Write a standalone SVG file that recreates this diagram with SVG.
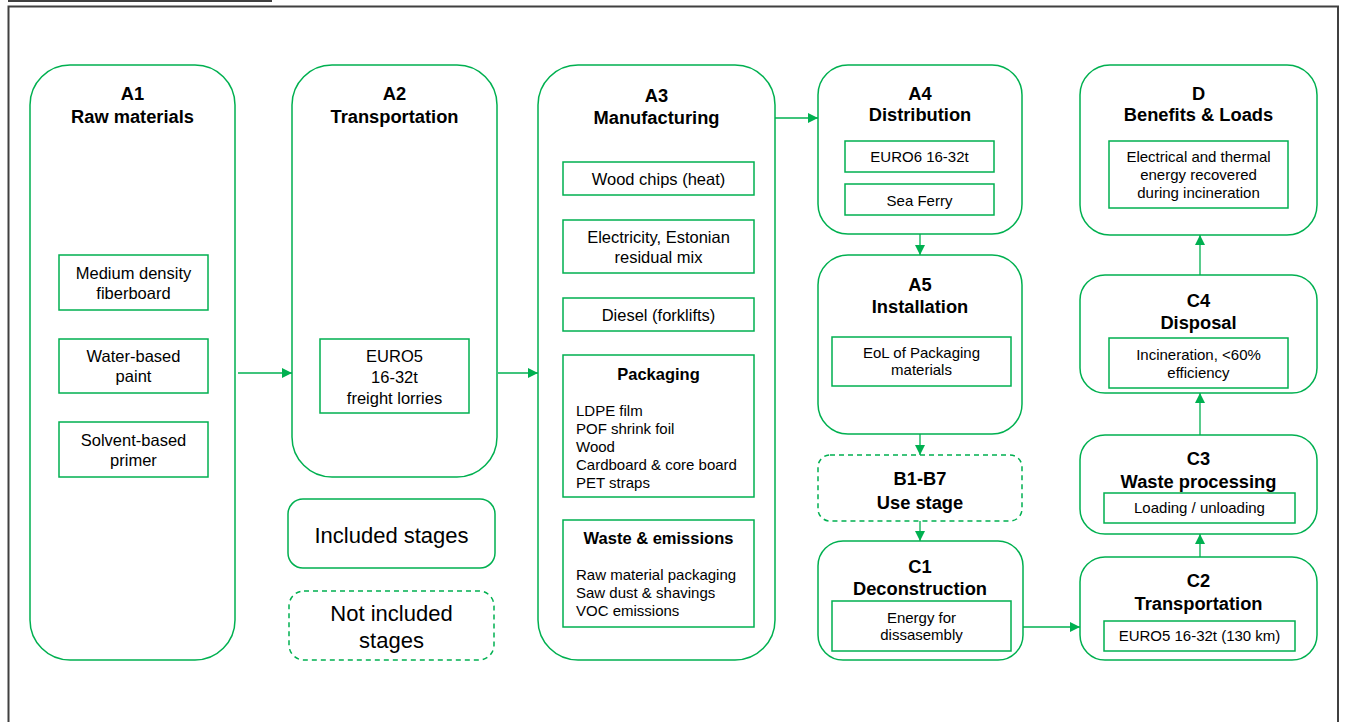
<svg xmlns="http://www.w3.org/2000/svg" width="1345" height="722" viewBox="0 0 1345 722">
<defs>
<style>
.stage{fill:#fff;stroke:#00b050;stroke-width:1.5}
.dash{fill:#fff;stroke:#00b050;stroke-width:1.5;stroke-dasharray:5 4}
.box{fill:#fff;stroke:#00b050;stroke-width:1.5}
.t{font-family:"Liberation Sans",Arial,sans-serif;font-weight:bold;font-size:18.3px;fill:#000;text-anchor:middle}
.s{font-family:"Liberation Sans",Arial,sans-serif;font-size:15px;fill:#000;text-anchor:middle}
.m{font-family:"Liberation Sans",Arial,sans-serif;font-size:16.5px;fill:#000;text-anchor:middle}
.sb{font-family:"Liberation Sans",Arial,sans-serif;font-weight:bold;font-size:16.5px;fill:#000;text-anchor:middle}
.l{font-family:"Liberation Sans",Arial,sans-serif;font-size:15px;fill:#000}
.lg{font-family:"Liberation Sans",Arial,sans-serif;font-size:22px;fill:#000;text-anchor:middle}
.c{stroke:#00b050;stroke-width:1.3;fill:none;marker-end:url(#ah)}
</style>
<marker id="ah" viewBox="0 0 10 10" refX="10" refY="5" markerWidth="10" markerHeight="10" markerUnits="userSpaceOnUse" orient="auto">
<path d="M0,0 L10,5 L0,10 z" fill="#00b050"/>
</marker>
</defs>
<rect width="1345" height="722" fill="#fff"/>
<line x1="8" y1="1" x2="272" y2="1" stroke="#000" stroke-width="1.5"/>
<path d="M8.5,722 V6.5 H1338 V722" fill="none" stroke="#404040" stroke-width="2"/>

<g id="A1">
<rect class="stage" x="30" y="65" width="205" height="595" rx="40"/>
<text class="t" x="132.5" y="99.5">A1</text>
<text class="t" x="132.5" y="122.5">Raw materials</text>
<rect class="box" x="59" y="255" width="149" height="55"/>
<text class="m" x="133.5" y="278.5">Medium density</text>
<text class="m" x="133.5" y="298.5">fiberboard</text>
<rect class="box" x="59" y="339" width="149" height="54"/>
<text class="m" x="133.5" y="361.5">Water-based</text>
<text class="m" x="133.5" y="381.5">paint</text>
<rect class="box" x="59" y="422" width="149" height="55"/>
<text class="m" x="133.5" y="445.5">Solvent-based</text>
<text class="m" x="133.5" y="465.5">primer</text>
</g>

<g id="A2">
<rect class="stage" x="292" y="65" width="205" height="412" rx="40"/>
<text class="t" x="394.5" y="99.5">A2</text>
<text class="t" x="394.5" y="122.5">Transportation</text>
<rect class="box" x="320" y="339" width="149" height="74"/>
<text class="m" x="394.5" y="361.5">EURO5</text>
<text class="m" x="394.5" y="382.5">16-32t</text>
<text class="m" x="394.5" y="403.5">freight lorries</text>
</g>

<g id="legend-included">
<rect class="stage" x="288" y="499" width="207" height="69" rx="15"/>
<text class="lg" x="391.5" y="543">Included stages</text>
</g>
<g id="legend-not-included">
<rect class="dash" x="289" y="591" width="205" height="69" rx="15"/>
<text class="lg" x="391.5" y="621">Not included</text>
<text class="lg" x="391.5" y="648">stages</text>
</g>

<g id="A3">
<rect class="stage" x="538" y="65" width="237" height="595" rx="40"/>
<text class="t" x="656.5" y="102">A3</text>
<text class="t" x="656.5" y="124">Manufacturing</text>
<rect class="box" x="563" y="162" width="191" height="33"/>
<text class="m" x="658.5" y="185">Wood chips (heat)</text>
<rect class="box" x="563" y="220" width="191" height="53"/>
<text class="m" x="658.5" y="243">Electricity, Estonian</text>
<text class="m" x="658.5" y="263">residual mix</text>
<rect class="box" x="563" y="298" width="191" height="33"/>
<text class="m" x="658.5" y="321">Diesel (forklifts)</text>
<rect class="box" x="563" y="355" width="191" height="142"/>
<text class="sb" x="658.5" y="380">Packaging</text>
<text class="l" x="576" y="416">LDPE film</text>
<text class="l" x="576" y="434">POF shrink foil</text>
<text class="l" x="576" y="452">Wood</text>
<text class="l" x="576" y="470">Cardboard &amp; core board</text>
<text class="l" x="576" y="488">PET straps</text>
<rect class="box" x="563" y="520" width="191" height="107"/>
<text class="sb" x="658.5" y="544">Waste &amp; emissions</text>
<text class="l" x="576" y="580">Raw material packaging</text>
<text class="l" x="576" y="598">Saw dust &amp; shavings</text>
<text class="l" x="576" y="616">VOC emissions</text>
</g>

<g id="A4">
<rect class="stage" x="818" y="65" width="204" height="169" rx="30"/>
<text class="t" x="920" y="99.5">A4</text>
<text class="t" x="920" y="120.5">Distribution</text>
<rect class="box" x="845" y="141" width="149" height="31"/>
<text class="s" x="919.5" y="162">EURO6 16-32t</text>
<rect class="box" x="845" y="184" width="149" height="31"/>
<text class="s" x="919.5" y="205.5">Sea Ferry</text>
</g>

<g id="A5">
<rect class="stage" x="818" y="255" width="204" height="179" rx="30"/>
<text class="t" x="920" y="290.5">A5</text>
<text class="t" x="920" y="312.5">Installation</text>
<rect class="box" x="832" y="337" width="179" height="49"/>
<text class="s" x="921.5" y="358">EoL of Packaging</text>
<text class="s" x="921.5" y="375">materials</text>
</g>

<g id="B1-B7">
<rect class="dash" x="818" y="455" width="204" height="66" rx="12"/>
<text class="t" x="920" y="484.5">B1-B7</text>
<text class="t" x="920" y="508.5">Use stage</text>
</g>

<g id="C1">
<rect class="stage" x="818" y="541" width="205" height="119" rx="25"/>
<text class="t" x="920" y="572.5">C1</text>
<text class="t" x="920" y="594.5">Deconstruction</text>
<rect class="box" x="832" y="601" width="179" height="50"/>
<text class="s" x="921.5" y="623">Energy for</text>
<text class="s" x="921.5" y="640">dissasembly</text>
</g>

<g id="C2">
<rect class="stage" x="1080" y="557" width="237" height="103" rx="25"/>
<text class="t" x="1198.5" y="586.5">C2</text>
<text class="t" x="1198.5" y="609.5">Transportation</text>
<rect class="box" x="1104" y="621" width="191" height="30"/>
<text class="s" x="1199.5" y="641">EURO5 16-32t (130 km)</text>
</g>

<g id="C3">
<rect class="stage" x="1080" y="435" width="237" height="99" rx="25"/>
<text class="t" x="1198.5" y="464.5">C3</text>
<text class="t" x="1198.5" y="487.5">Waste processing</text>
<rect class="box" x="1104" y="493" width="191" height="30"/>
<text class="s" x="1199.5" y="513">Loading / unloading</text>
</g>

<g id="C4">
<rect class="stage" x="1080" y="275" width="237" height="118" rx="25"/>
<text class="t" x="1198.5" y="306.5">C4</text>
<text class="t" x="1198.5" y="328.5">Disposal</text>
<rect class="box" x="1109" y="338" width="179" height="50"/>
<text class="s" x="1198.5" y="360">Incineration, &lt;60%</text>
<text class="s" x="1198.5" y="378">efficiency</text>
</g>

<g id="D">
<rect class="stage" x="1080" y="65" width="237" height="170" rx="30"/>
<text class="t" x="1198.5" y="99.5">D</text>
<text class="t" x="1198.5" y="120.5">Benefits &amp; Loads</text>
<rect class="box" x="1109" y="141" width="179" height="67"/>
<text class="s" x="1198.5" y="162">Electrical and thermal</text>
<text class="s" x="1198.5" y="180">energy recovered</text>
<text class="s" x="1198.5" y="198">during incineration</text>
</g>

<g id="connectors">
<line class="c" x1="238" y1="373" x2="292" y2="373"/>
<line class="c" x1="498" y1="373" x2="538" y2="373"/>
<line class="c" x1="775" y1="118" x2="818" y2="118"/>
<line class="c" x1="920" y1="234" x2="920" y2="255"/>
<line class="c" x1="920" y1="434" x2="920" y2="455"/>
<line class="c" x1="920" y1="521" x2="920" y2="541"/>
<line class="c" x1="1023" y1="627" x2="1080" y2="627"/>
<line class="c" x1="1200" y1="557" x2="1200" y2="534"/>
<line class="c" x1="1200" y1="435" x2="1200" y2="393"/>
<line class="c" x1="1200" y1="275" x2="1200" y2="235"/>
</g>
</svg>
